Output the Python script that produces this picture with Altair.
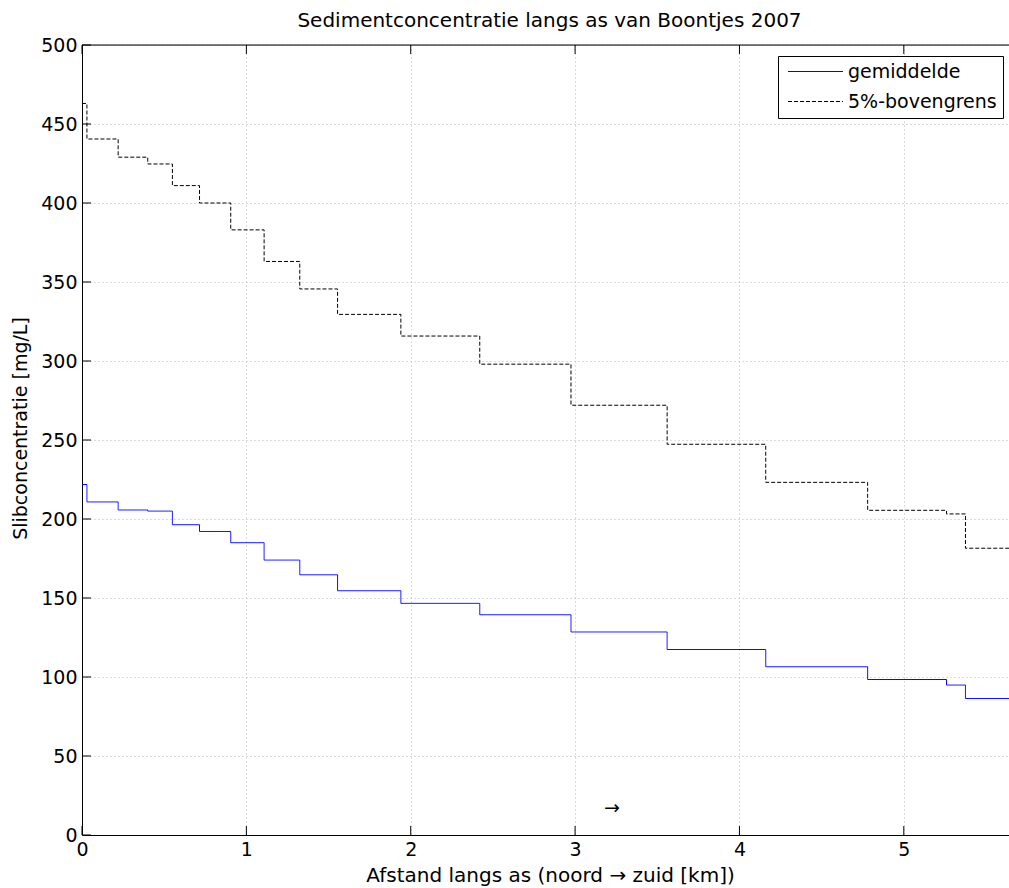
import altair as alt
import pandas as pd

# ---- data ----
x_breaks = [0.0, 0.03, 0.22, 0.40, 0.55, 0.715, 0.905, 1.108, 1.325, 1.555,
            1.94, 2.42, 2.975, 3.56, 4.16, 4.78, 5.26, 5.375, 5.64]
mean_vals = [221.8, 210.8, 205.7, 205.0, 196.4, 192.1, 185.0, 174.0, 164.7, 154.6,
             146.6, 139.4, 128.5, 117.4, 106.5, 98.4, 94.9, 86.4, 86.4]
upper_vals = [463.0, 440.5, 429.0, 424.7, 411.0, 400.0, 383.0, 363.0, 345.6, 329.5,
              315.8, 298.0, 272.0, 247.3, 223.2, 205.5, 203.2, 181.5, 181.5]
series_names = ["gemiddelde", "5%-bovengrens"]
x_ticks = [0, 1, 2, 3, 4, 5]
y_ticks = [0, 50, 100, 150, 200, 250, 300, 350, 400, 450, 500]
arrow_x = [3.224]
arrow_y = [17.0]
arrow_text = ["\u2192"]

W, H = 927, 790
XMAX = 5.64
FONT = "DejaVu Sans"

n = len(x_breaks)
df = pd.DataFrame({
    "x": x_breaks + x_breaks,
    "y": mean_vals + upper_vals,
    "serie": [series_names[0]] * n + [series_names[1]] * n,
    "order": list(range(n)) * 2,
})

xscale = alt.Scale(domain=[0, XMAX], nice=False, zero=False)
yscale = alt.Scale(domain=[0, 500], nice=False)

xaxis = alt.Axis(
    values=x_ticks, format="d", title="Afstand langs as (noord \u2192 zuid [km])",
    grid=True, gridDash=[1, 3], gridColor="#b8b8b8", gridWidth=1,
    domain=True, domainColor="black", domainWidth=1, ticks=False,
    labelFontSize=19, labelFont=FONT, labelColor="black", labelPadding=5,
    labelFlush=False,
    titleFontSize=20, titleFont=FONT, titleFontWeight="normal", titleColor="black",
    titlePadding=6, titleX=468)
yaxis = alt.Axis(
    values=y_ticks, format="d", title="Slibconcentratie [mg/L]",
    grid=True, gridDash=[1, 3], gridColor="#b8b8b8", gridWidth=1,
    domain=True, domainColor="black", domainWidth=1, ticks=False,
    labelFontSize=19, labelFont=FONT, labelColor="black", labelPadding=5,
    labelFlush=False,
    titleFontSize=19, titleFont=FONT, titleFontWeight="normal", titleColor="black",
    titlePadding=10, titleY=383)

legend = alt.Legend(
    title=None, orient="none", legendX=696, legendY=11,
    strokeColor="black", fillColor="white", padding=6,
    symbolType="M-1,0H9", symbolSize=121, symbolStrokeWidth=1,
    labelFontSize=19, labelFont=FONT, labelColor="black",
    labelOffset=45, rowPadding=10, cornerRadius=0,
)

lines = alt.Chart(df).mark_line(interpolate="step-after", strokeWidth=1, clip=True).encode(
    x=alt.X("x:Q", scale=xscale, axis=xaxis),
    y=alt.Y("y:Q", scale=yscale, axis=yaxis),
    color=alt.Color("serie:N", scale=alt.Scale(domain=series_names, range=["#0000ff", "#000000"]), legend=legend),
    strokeDash=alt.StrokeDash("serie:N", scale=alt.Scale(domain=series_names, range=[[1, 0], [4, 2]]), legend=legend),
    order="order:Q",
)

xt = pd.DataFrame({"x": x_ticks})
yt = pd.DataFrame({"y": y_ticks})

bottom_ticks = alt.Chart(xt).mark_rule(color="black", strokeWidth=1).encode(
    x=alt.X("x:Q", scale=xscale, axis=xaxis), y=alt.value(H), y2=alt.value(H - 9))
top_ticks = alt.Chart(xt).mark_rule(color="black", strokeWidth=1).encode(
    x=alt.X("x:Q", scale=xscale, axis=xaxis), y=alt.value(0), y2=alt.value(9))
left_ticks = alt.Chart(yt).mark_rule(color="black", strokeWidth=1).encode(
    y=alt.Y("y:Q", scale=yscale, axis=yaxis), x=alt.value(0), x2=alt.value(9))
top_border = alt.Chart(pd.DataFrame({"a": [0]})).mark_rule(color="black", strokeWidth=1).encode(
    x=alt.value(0), x2=alt.value(W), y=alt.value(0))

arrow = alt.Chart(pd.DataFrame({"x": arrow_x, "y": arrow_y, "s": arrow_text})).mark_text(
    fontSize=19, font=FONT, color="black").encode(
    x=alt.X("x:Q", scale=xscale, axis=xaxis), y=alt.Y("y:Q", scale=yscale, axis=yaxis), text="s:N")

chart = alt.layer(lines, bottom_ticks, top_ticks, left_ticks, top_border, arrow).properties(
    width=W, height=H,
    title=alt.TitleParams("Sedimentconcentratie langs as van Boontjes 2007", fontSize=20,
                          font=FONT, fontWeight="normal", color="black", anchor="middle",
                          dx=4, offset=5),
    autosize=alt.AutoSizeParams(type="none"),
    padding={"left": 82, "top": 45, "right": 0, "bottom": 53},
).configure_view(stroke=None).configure(background="white")

chart.save("out.html", embed_options={"renderer": "svg", "actions": False})
